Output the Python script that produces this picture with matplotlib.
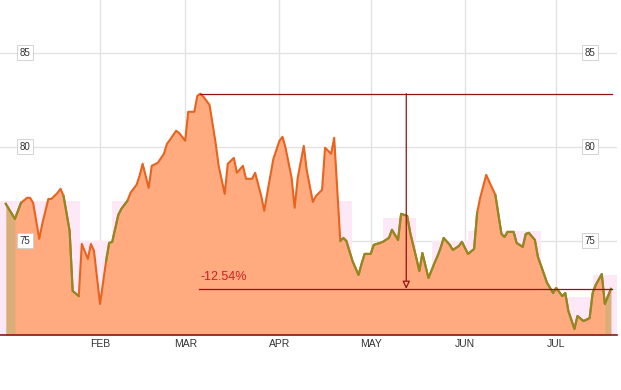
import matplotlib
matplotlib.use("Agg")
import matplotlib.pyplot as plt
import pandas as pd

plt.rcParams["font.family"] = ["Liberation Sans", "DejaVu Sans"]

# days since Jan 1 and closing price
days = [0, 3, 5, 7, 8, 9, 11, 12, 14, 15, 17, 18, 19, 21, 22, 24, 25, 27, 28, 29,
        31, 33, 34, 35, 37, 38, 40, 41, 43, 44, 45, 47, 48, 50, 52, 53, 54, 56, 57, 59,
        60, 62, 63, 64, 65, 67, 68, 69, 70, 72, 73, 75, 76, 78, 79, 81, 82, 84, 85, 86,
        88, 90, 91, 92, 94, 95, 96, 98, 99, 101, 102, 104, 105, 107, 108, 110, 111, 112, 114, 116,
        117, 118, 120, 121, 123, 124, 126, 127, 129, 130, 132, 133, 135, 136, 137, 139, 141, 142, 143, 144,
        146, 147, 149, 150, 152, 154, 155, 156, 158, 159, 161, 163, 164, 165, 167, 168, 170, 171, 172, 174,
        175, 177, 178, 180, 181, 183, 184, 185, 187, 188, 190, 192, 193, 194, 196, 197, 199]
price = [76.97, 76.17, 77.02, 77.29, 77.29, 77.02, 75.11, 75.90, 77.23, 77.23, 77.55, 77.77, 77.39, 75.53, 72.34, 72.07, 74.84, 74.04, 74.84, 74.47,
         71.65, 73.94, 74.89, 74.95, 76.38, 76.70, 77.13, 77.55, 77.98, 78.46, 79.10, 77.82, 78.99, 79.15, 79.63, 80.16, 80.37, 80.85, 80.74, 80.32,
         81.86, 81.86, 82.71, 82.82, 82.66, 82.23, 81.22, 80.21, 78.99, 77.50, 79.10, 79.41, 78.62, 78.99, 78.30, 78.30, 78.62, 77.39, 76.60, 77.55,
         79.36, 80.32, 80.53, 79.95, 78.35, 76.76, 78.35, 80.05, 78.72, 77.07, 77.39, 77.71, 79.95, 79.63, 80.48, 75.00, 75.16, 75.00, 73.94, 73.19,
         73.78, 74.31, 74.31, 74.79, 74.89, 74.95, 75.16, 75.59, 75.05, 76.44, 76.33, 75.43, 74.10, 73.40, 74.36, 73.03, 73.83, 74.20, 74.63, 75.16,
         74.79, 74.52, 74.73, 74.95, 74.31, 74.57, 76.49, 77.29, 78.51, 78.14, 77.45, 75.37, 75.21, 75.48, 75.48, 74.89, 74.68, 75.37, 75.43, 75.05,
         74.15, 73.24, 72.77, 72.23, 72.50, 72.07, 72.23, 71.28, 70.32, 71.01, 70.74, 70.90, 72.23, 72.66, 73.24, 71.65, 72.45]

# periods where the line is drawn olive (start day, end day)
olive_spans = [(0, 5), (19, 24), (33, 40), (110, 155), (161, 199)]

# light pink background bands (start day, end day, level)
band_start = [-2, 24.4, 35, 109, 124, 140, 152, 177, 193]
band_end = [24.4, 35, 39.5, 114, 135, 152, 176, 193, 201]
band_level = [77.1, 75.0, 77.1, 77.1, 76.2, 75.0, 75.5, 72.0, 73.2]

months = ["FEB", "MAR", "APR", "MAY", "JUN", "JUL"]
yticks = [75, 80, 85]
change_label = "-12.54%"

start = pd.Timestamp("2019-01-01")
month_pos = [(pd.Timestamp(f"2019-{m:02d}-01") - start).days for m in range(2, 8)]

fig = plt.figure(figsize=(6.21, 3.9), dpi=100)
ax = fig.add_axes([0, 55 / 390, 617 / 621, 335 / 390])
ax.set_xlim(-1.9, 201)
ax.set_ylim(70, 87.8)

# background
for s, e, lv in zip(band_start, band_end, band_level):
    ax.fill_between([s, e], 70, lv, color="#fce8f7", lw=0, zorder=0.5)

for m in month_pos:
    ax.axvline(m, color="#e2e2e2", lw=1, zorder=0.3)
for y in yticks:
    ax.axhline(y, color="#e2e2e2", lw=1, zorder=0.3)

# area
ax.fill_between(days, 70, price, color="#d9ae78", lw=0, zorder=1)
ax.fill_between(days[1:-1], 70, price[1:-1], color="#ffaa7f", lw=0, zorder=1.1)

ax.plot(days, price, color="#e8641e", lw=1.5, zorder=2, solid_joinstyle="round")
for s, e in olive_spans:
    xs = [d for d in days if s <= d <= e]
    ys = [p for d, p in zip(days, price) if s <= d <= e]
    ax.plot(xs, ys, color="#8c8a22", lw=1.5, zorder=2.1, solid_joinstyle="round")

# drawdown annotation
top = max(price)
top_day = days[price.index(top)]
last = price[-1]
end_day = days[-1] + 0.4
dark = "#9b1111"
ax.plot([top_day, end_day], [top, top], color=dark, lw=0.9, zorder=3)
ax.plot([top_day - 0.5, end_day], [last, last], color=dark, lw=0.9, zorder=3)
mid = (top_day + end_day) / 2
ax.annotate("", xy=(mid, last), xytext=(mid, top),
            arrowprops=dict(arrowstyle="-|>,head_length=0.45,head_width=0.22",
                            color=dark, fc="#ffaa7f", lw=0.9, shrinkA=0, shrinkB=0),
            zorder=3)
ax.text(top_day, last + 0.3, change_label, color="#cc2222", fontsize=9,
        ha="left", va="bottom", zorder=3)

# y labels in boxes on both sides
box = dict(boxstyle="square,pad=0.25", fc="white", ec="#cccccc", lw=0.6)
for y in yticks:
    for xa in (0.0405, 0.956):
        ax.text(xa, y, str(y), transform=ax.get_yaxis_transform(), fontsize=7,
                color="#333333", ha="center", va="center", bbox=box, zorder=4)

ax.set_yticks([])
ax.set_xticks(month_pos)
ax.set_xticklabels(months, fontsize=7.5, color="#333333")
ax.tick_params(axis="x", length=0, pad=3)
for side in ("top", "left", "right"):
    ax.spines[side].set_visible(False)
ax.spines["bottom"].set_color("#8b1a1a")
ax.spines["bottom"].set_linewidth(1.2)
ax.spines["bottom"].set_zorder(5)

fig.savefig("out.png", dpi=100)
